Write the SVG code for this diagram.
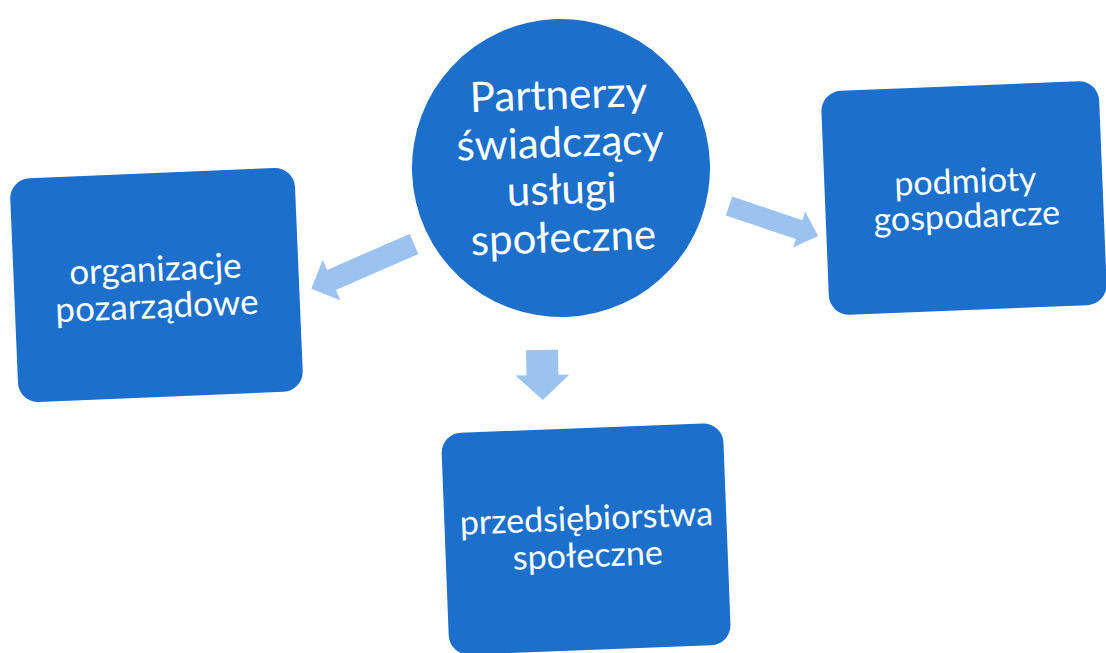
<svg xmlns="http://www.w3.org/2000/svg" width="1106" height="653" viewBox="0 0 1106 653">
<style>
.box{fill:#1c70cc;}
.lbl{fill:#ffffff;font-family:Lato,"Open Sans","Liberation Sans",sans-serif;text-anchor:middle;}
.arr{fill:#9cc2f0;}
</style>
<rect x="0" y="0" width="1106" height="653" fill="#ffffff"/>
<g id="connectors">
<polygon class="arr" points="0,-11 90,-11 90,-22 112,0 90,22 90,11 0,11" transform="translate(414,244) rotate(156.4)"/>
<polygon class="arr" points="0,-10 74,-10 74,-19 94,0 74,19 74,10 0,10" transform="translate(729,206) rotate(18.6)"/>
<polygon class="arr" points="0,-16 25,-16 25,-27 50,0 25,27 25,16 0,16" transform="translate(542,350) rotate(89)"/>
</g>
<g id="center" transform="rotate(-2 561 168)">
<circle class="box" cx="561" cy="168" r="149"/>
<text class="lbl" font-size="42" x="561" y="109">Partnerzy</text>
<text class="lbl" font-size="42" x="561" y="157">świadczący</text>
<text class="lbl" font-size="42" x="561" y="204">usługi</text>
<text class="lbl" font-size="42" x="561" y="252">społeczne</text>
</g>
<g id="organizacje" transform="rotate(-2.4 156 285)">
<rect class="box" x="14" y="173" width="285" height="224" rx="20"/>
<text class="lbl" font-size="35" x="156" y="281">organizacje</text>
<text class="lbl" font-size="35" x="156" y="318">pozarządowe</text>
</g>
<g id="podmioty" transform="rotate(-2.3 964 198)">
<rect class="box" x="825" y="86" width="278" height="224" rx="20"/>
<text class="lbl" font-size="34" x="966" y="193">podmioty</text>
<text class="lbl" font-size="34" x="966" y="228">gospodarcze</text>
</g>
<g id="przedsiebiorstwa" transform="rotate(-2.2 586 537)">
<rect class="box" x="445" y="428" width="282" height="222" rx="20"/>
<text class="lbl" font-size="34" x="587" y="530">przedsiębiorstwa</text>
<text class="lbl" font-size="34" x="587" y="567">społeczne</text>
</g>
</svg>
